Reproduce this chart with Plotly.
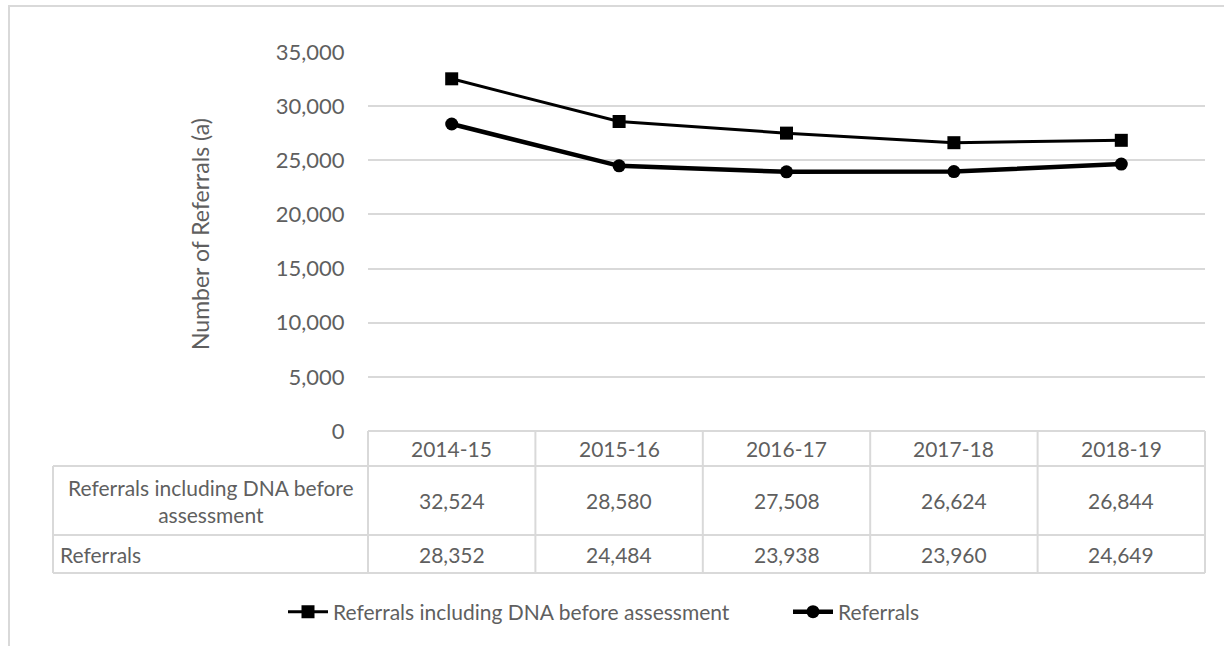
import plotly.graph_objects as go

categories = ["2014-15", "2015-16", "2016-17", "2017-18", "2018-19"]
series_names = ["Referrals including DNA before assessment", "Referrals"]
dna_values = [32524, 28580, 27508, 26624, 26844]
ref_values = [28352, 24484, 23938, 23960, 24649]
row_labels = ["Referrals including DNA before<br>assessment", "Referrals"]
y_ticks = [0, 5000, 10000, 15000, 20000, 25000, 30000, 35000]

W, H = 1224, 646
L, R, T, B = 368, 19, 52, 215
pw, ph = W - L - R, H - T - B

def px_x(px):
    return (px - L) / pw

def px_y(py):
    return (H - B - py) / ph

TXT = "#5f5f5f"
GRID = "#d9d9d9"
FONT = "Lato"
FS = 21

fig = go.Figure()
fig.add_trace(go.Scatter(
    x=categories, y=dna_values, name=series_names[0], mode="lines+markers",
    line=dict(color="black", width=3), marker=dict(symbol="square", size=13, color="black"),
))
fig.add_trace(go.Scatter(
    x=categories, y=ref_values, name=series_names[1], mode="lines+markers",
    line=dict(color="black", width=4.5), marker=dict(symbol="circle", size=13, color="black"),
))

shapes = []
# outer chart border
shapes.append(dict(type="rect", xref="paper", yref="paper",
                   x0=px_x(9), x1=px_x(1300), y0=px_y(6), y1=px_y(700),
                   line=dict(color=GRID, width=2), layer="below"))

y_head_top, y_head_bot, y_r1_bot, y_r2_bot = px_y(431), px_y(466), px_y(535), px_y(573)
x_left = px_x(53)
line_style = dict(color=GRID, width=2)
# horizontal lines
shapes.append(dict(type="line", xref="paper", yref="paper", x0=0, x1=1, y0=y_head_top, y1=y_head_top, line=line_style))
for yy in (y_head_bot, y_r1_bot, y_r2_bot):
    shapes.append(dict(type="line", xref="paper", yref="paper", x0=x_left, x1=1, y0=yy, y1=yy, line=line_style))
# vertical lines
shapes.append(dict(type="line", xref="paper", yref="paper", x0=x_left, x1=x_left, y0=y_head_bot, y1=y_r2_bot, line=line_style))
n = len(categories)
for i in range(n + 1):
    xx = i / n
    shapes.append(dict(type="line", xref="paper", yref="paper", x0=xx, x1=xx, y0=y_head_top, y1=y_r2_bot, line=line_style))

annotations = []
font = dict(family=FONT, size=FS, color=TXT)
for i, c in enumerate(categories):
    annotations.append(dict(x=c, xref="x", y=(y_head_top + y_head_bot) / 2, yref="paper",
                            text=c, showarrow=False, font=font, xanchor="center", yanchor="middle"))
    annotations.append(dict(x=c, xref="x", y=(y_head_bot + y_r1_bot) / 2, yref="paper",
                            text=f"{dna_values[i]:,}", showarrow=False, font=font, xanchor="center", yanchor="middle"))
    annotations.append(dict(x=c, xref="x", y=(y_r1_bot + y_r2_bot) / 2, yref="paper",
                            text=f"{ref_values[i]:,}", showarrow=False, font=font, xanchor="center", yanchor="middle"))
annotations.append(dict(x=(x_left + 0) / 2, xref="paper", y=(y_head_bot + y_r1_bot) / 2, yref="paper",
                        text=row_labels[0], showarrow=False, font=font, xanchor="center", yanchor="middle",
                        align="center"))
annotations.append(dict(x=px_x(58), xref="paper", y=(y_r1_bot + y_r2_bot) / 2, yref="paper",
                        text=row_labels[1], showarrow=False, font=font, xanchor="left", yanchor="middle"))
annotations.append(dict(x=px_x(200), xref="paper", y=px_y(234), yref="paper",
                        text="Number of Referrals (a)", textangle=-90, showarrow=False,
                        font=dict(family=FONT, size=23, color=TXT), xanchor="center", yanchor="middle"))

fig.update_layout(
    width=W, height=H,
    margin=dict(l=L, r=R, t=T, b=B, autoexpand=False),
    paper_bgcolor="white", plot_bgcolor="white",
    font=dict(family=FONT, size=FS, color=TXT),
    xaxis=dict(type="category", range=[-0.5, n - 0.5], showticklabels=False, showgrid=False,
               zeroline=False, showline=False, ticks=""),
    yaxis=dict(range=[0, 35000], tickvals=y_ticks, tickformat=",", showgrid=True, gridcolor=GRID,
               gridwidth=2, zeroline=False, showline=False, ticks="outside", ticklen=18,
               tickcolor="rgba(0,0,0,0)", tickfont=dict(family=FONT, size=22, color=TXT)),
    showlegend=True,
    legend=dict(orientation="h", x=px_x(283), xanchor="left", y=px_y(612), yanchor="middle",
                font=dict(family=FONT, size=FS, color=TXT), itemwidth=40, entrywidth=450,
                bgcolor="rgba(0,0,0,0)"),
    shapes=shapes, annotations=annotations,
)

fig.write_html("out.html")
